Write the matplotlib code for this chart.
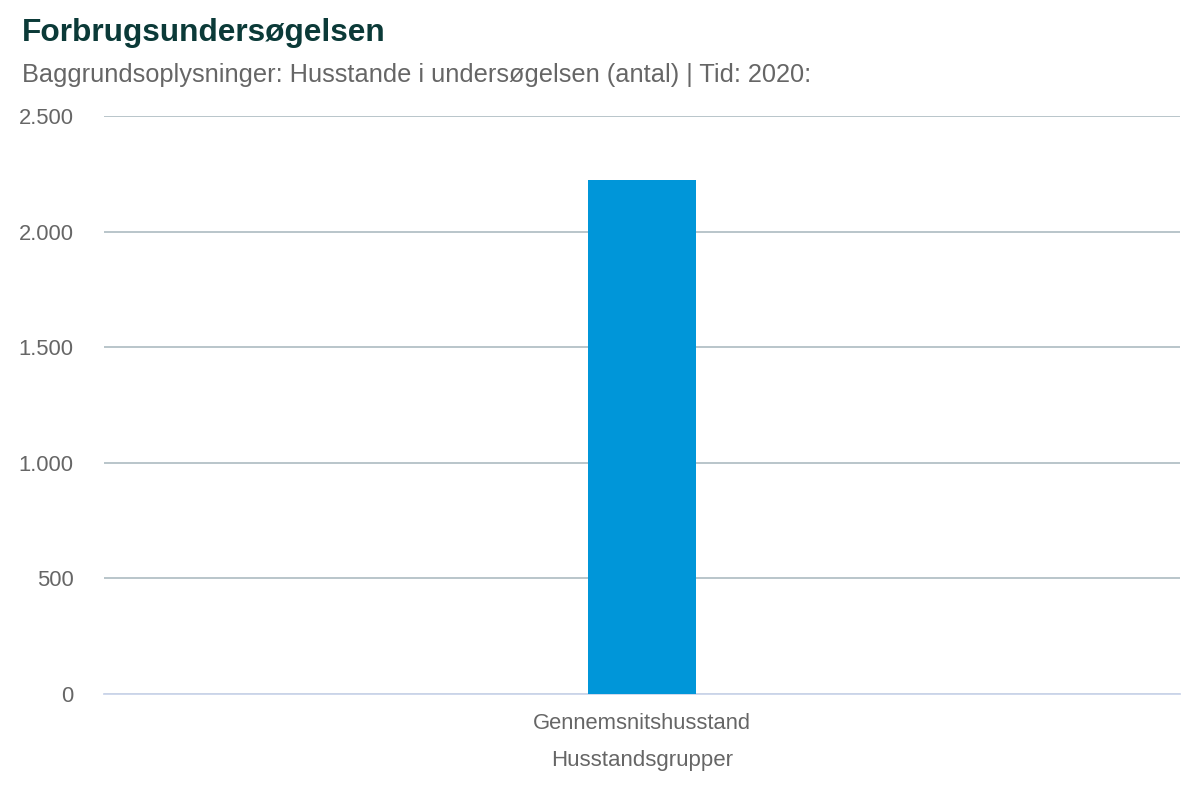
import matplotlib.pyplot as plt
from matplotlib.ticker import FuncFormatter

plt.rcParams['font.family'] = ['Liberation Sans', 'DejaVu Sans']

categories = ['Gennemsnitshusstand']
values = [2223]
y_ticks = [0, 500, 1000, 1500, 2000, 2500]

fig = plt.figure(figsize=(12, 8), dpi=100)
ax = fig.add_axes([0.0867, 0.1325, 0.8966, 0.7225])

ax.bar(range(len(categories)), values, width=0.1, color='#0096d9', zorder=3)

ax.set_xlim(-0.5, 0.5)
ax.set_ylim(0, 2500)
ax.set_yticks(y_ticks)
ax.yaxis.set_major_formatter(FuncFormatter(lambda v, p: f'{int(v):,}'.replace(',', '.')))
ax.set_xticks(range(len(categories)))
ax.set_xticklabels(categories)
ax.tick_params(axis='both', length=0, labelsize=15.8, colors='#666666')
ax.tick_params(axis='x', pad=14)
ax.tick_params(axis='y', pad=22)
for lbl in ax.get_yticklabels():
    lbl.set_horizontalalignment('right')

ax.grid(axis='y', color='#b3c0c6', linewidth=1.3, zorder=0)
for s in ['top', 'right', 'left']:
    ax.spines[s].set_visible(False)
ax.spines['bottom'].set_color('#ccd6eb')
ax.spines['bottom'].set_linewidth(1.3)

ax.set_xlabel('Husstandsgrupper', fontsize=16, color='#666666', labelpad=11)

fig.text(0.018, 0.959, 'Forbrugsundersøgelsen', fontsize=22.8, fontweight='bold',
         color='#0b3a38', va='center')
fig.text(0.018, 0.906, 'Baggrundsoplysninger: Husstande i undersøgelsen (antal) | Tid: 2020:',
         fontsize=18.3, color='#666666', va='center')

fig.savefig('out.png', dpi=100)
